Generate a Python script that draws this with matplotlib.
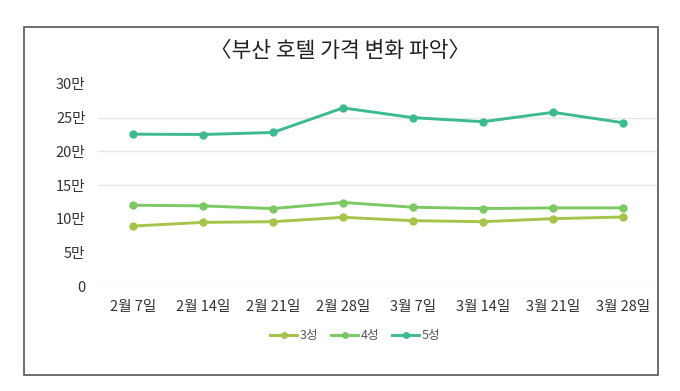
import matplotlib.pyplot as plt
from matplotlib.patches import Rectangle

plt.rcParams['font.family'] = ['Noto Sans CJK KR', 'DejaVu Sans']

# Data (unit: 만 원)
dates = ['2월 7일', '2월 14일', '2월 21일', '2월 28일', '3월 7일', '3월 14일', '3월 21일', '3월 28일']
star3 = [8.9, 9.45, 9.55, 10.2, 9.7, 9.55, 10.0, 10.25]
star4 = [12.0, 11.9, 11.5, 12.4, 11.7, 11.5, 11.6, 11.6]
star5 = [22.55, 22.5, 22.8, 26.45, 25.0, 24.4, 25.8, 24.25]
series_names = ['3성', '4성', '5성']
y_ticks = [0, 5, 10, 15, 20, 25, 30]
y_labels = ['0', '5만', '10만', '15만', '20만', '25만', '30만']

colors = ['#a6c34a', '#7cc862', '#3dba8f']
text_color = '#333333'

fig = plt.figure(figsize=(6.8, 3.91), dpi=100)

# outer frame
fig.patches.append(Rectangle((24 / 680, 1 - 375 / 391), (658 - 24) / 680, (375 - 27) / 391,
                             transform=fig.transFigure, fill=False,
                             edgecolor='#555555', linewidth=1.2))

ax = fig.add_axes([98 / 680, 1 - 286 / 391, (658 - 98) / 680, (286 - 84) / 391])

x = range(len(dates))
for vals, name, c in zip([star3, star4, star5], series_names, colors):
    ax.plot(x, vals, color=c, linewidth=2.1, marker='o', markersize=5, label=name, zorder=3)

# light gridlines (only the ones visible in the source)
for v in [0, 15, 20, 25]:
    ax.axhline(v, color='#e6e6e6', linewidth=1, zorder=1)

ax.set_xlim(-0.5, len(dates) - 0.5)
ax.set_ylim(0, 30)
ax.set_xticks(list(x))
ax.set_xticklabels(dates, fontsize=10.5, color=text_color)
ax.set_yticks(y_ticks)
ax.set_yticklabels(y_labels, fontsize=10.5, color=text_color)
ax.tick_params(axis='y', length=0, pad=9)
ax.tick_params(axis='x', length=0, pad=10)
for s in ax.spines.values():
    s.set_visible(False)

fig.text(340 / 680, 1 - 51 / 391, '〈부산 호텔 가격 변화 파악〉', ha='center', va='center',
         fontsize=15.5, color='#222222')

leg = fig.legend(loc='center', bbox_to_anchor=(355 / 680, 1 - 336 / 391), ncol=3,
                 frameon=False, fontsize=9, handlelength=2.2, columnspacing=1.0,
                 handletextpad=0.2, markerscale=0.8)
for t in leg.get_texts():
    t.set_color('#555555')

fig.savefig('out.png', dpi=100)
